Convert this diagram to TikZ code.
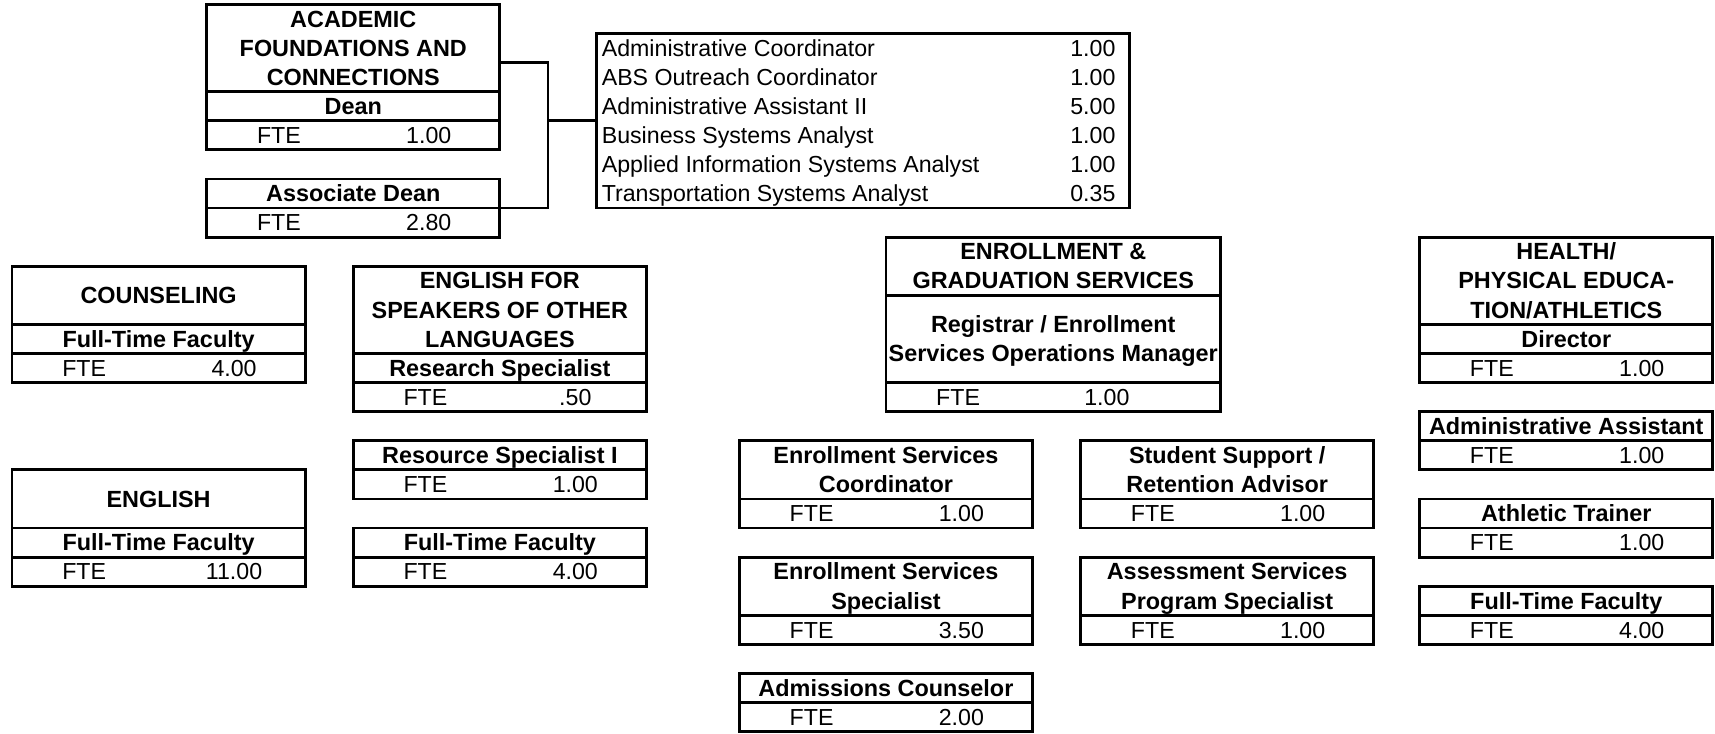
\documentclass[tikz,border=0pt]{standalone}
\usepackage{fontspec}
\setmainfont{Liberation Sans}
\newcommand{\RH}{26.6}
\tikzset{
  rb/.style={draw, line width=2.6pt, anchor=north west, inner sep=0pt, outer sep=0pt},
  bt/.style={font=\fontsize{21.4}{25}\selectfont\bfseries, inner sep=0pt, text height=15pt, text depth=0pt, anchor=center},
  nt/.style={font=\fontsize{21.2}{25}\selectfont, inner sep=0pt, text height=15pt, text depth=0pt, anchor=center},
  conn/.style={line width=2.6pt}
}
% row box: name, x, width, start row, number of rows
\newcommand{\rowbox}[5]{\node[rb, minimum width=#3pt, minimum height={#5*\RH pt}] (#1) at (#2,{4+\RH*#4}) {};}
% bold label: name, x centre, row centre index, text
\newcommand{\blab}[4]{\node[bt] (#1) at (#2,{4+\RH*#3}) {#4};}
% FTE row: name, x, width, row, value, value offset
\newcommand{\fterow}[6]{\rowbox{#1}{#2}{#3}{#4}{1}
  \node[nt] (#1a) at ({#2+66},{4+\RH*(#4+0.5)}) {FTE};
  \node[nt] (#1b) at ({#2+#6},{4+\RH*(#4+0.5)}) {#5};}
\begin{document}
\begin{tikzpicture}[x=1pt,y=-1pt]
\useasboundingbox (0,0) rectangle (1568,671);

% ACADEMIC FOUNDATIONS AND CONNECTIONS
\rowbox{acT}{189}{268}{0}{3}
\blab{acT1}{323}{0.5}{ACADEMIC}
\blab{acT2}{323}{1.5}{FOUNDATIONS AND}
\blab{acT3}{323}{2.5}{CONNECTIONS}
\rowbox{acD}{189}{268}{3}{1}
\blab{acD1}{323}{3.5}{Dean}
\fterow{acF}{189}{268}{4}{1.00}{203}

% Associate Dean
\rowbox{adT}{189}{268}{6}{1}
\blab{adT1}{323}{6.5}{Associate Dean}
\fterow{adF}{189}{268}{7}{2.80}{203}

% staff list
\rowbox{lst}{545}{488}{1}{6}
\foreach \t/\v [count=\i from 0] in {Administrative Coordinator/1.00, ABS Outreach Coordinator/1.00, Administrative Assistant II/5.00, Business Systems Analyst/1.00, Applied Information Systems Analyst/1.00, Transportation Systems Analyst/0.35}{
  \node[nt, anchor=west] (lt\i) at (550,{4+\RH*(1.5+\i)}) {\t};
  \node[nt, anchor=east] (lv\i) at (1020,{4+\RH*(1.5+\i)}) {\v};
}

% connectors
\coordinate (jt) at (501,{4+\RH*2});
\coordinate (jm) at (501,{4+\RH*4});
\coordinate (jb) at (501,{4+\RH*7});
\draw[conn] (acT.east |- jt) -- (jt) -- (jb) -- (adT.south east);
\draw[conn] (jm) -- (lst.west |- jm);

% COUNSELING
\rowbox{cT}{11}{268}{9}{2}
\blab{cT1}{145}{10}{COUNSELING}
\rowbox{cP}{11}{268}{11}{1}
\blab{cP1}{145}{11.5}{Full-Time Faculty}
\fterow{cF}{11}{268}{12}{4.00}{203}

% ENGLISH
\rowbox{gT}{11}{268}{16}{2}
\blab{gT1}{145}{17}{ENGLISH}
\rowbox{gP}{11}{268}{18}{1}
\blab{gP1}{145}{18.5}{Full-Time Faculty}
\fterow{gF}{11}{268}{19}{11.00}{203}

% ESOL
\rowbox{eT}{323}{268}{9}{3}
\blab{eT1}{457}{9.5}{ENGLISH FOR}
\blab{eT2}{457}{10.5}{SPEAKERS OF OTHER}
\blab{eT3}{457}{11.5}{LANGUAGES}
\rowbox{eP}{323}{268}{12}{1}
\blab{eP1}{457}{12.5}{Research Specialist}
\fterow{eF}{323}{268}{13}{.50}{203}

\rowbox{rT}{323}{268}{15}{1}
\blab{rT1}{457}{15.5}{Resource Specialist I}
\fterow{rF}{323}{268}{16}{1.00}{203}

\rowbox{fP}{323}{268}{18}{1}
\blab{fP1}{457}{18.5}{Full-Time Faculty}
\fterow{fF}{323}{268}{19}{4.00}{203}

% ENROLLMENT & GRADUATION SERVICES
\rowbox{nT}{810}{306}{8}{2}
\blab{nT1}{963}{8.5}{ENROLLMENT \&}
\blab{nT2}{963}{9.5}{GRADUATION SERVICES}
\rowbox{nP}{810}{306}{10}{3}
\blab{nP1}{963}{11}{Registrar / Enrollment}
\blab{nP2}{963}{12}{Services Operations Manager}
\fterow{nF}{810}{306}{13}{1.00}{202}

\rowbox{sT}{676}{268}{15}{2}
\blab{sT1}{810}{15.5}{Enrollment Services}
\blab{sT2}{810}{16.5}{Coordinator}
\fterow{sF}{676}{268}{17}{1.00}{203}

\rowbox{pT}{676}{268}{19}{2}
\blab{pT1}{810}{19.5}{Enrollment Services}
\blab{pT2}{810}{20.5}{Specialist}
\fterow{pF}{676}{268}{21}{3.50}{203}

\rowbox{aT}{676}{268}{23}{1}
\blab{aT1}{810}{23.5}{Admissions Counselor}
\fterow{aF}{676}{268}{24}{2.00}{203}

\rowbox{uT}{988}{268}{15}{2}
\blab{uT1}{1122}{15.5}{Student Support /}
\blab{uT2}{1122}{16.5}{Retention Advisor}
\fterow{uF}{988}{268}{17}{1.00}{203}

\rowbox{mT}{988}{268}{19}{2}
\blab{mT1}{1122}{19.5}{Assessment Services}
\blab{mT2}{1122}{20.5}{Program Specialist}
\fterow{mF}{988}{268}{21}{1.00}{203}

% HEALTH/PHYSICAL EDUCATION/ATHLETICS
\rowbox{hT}{1298}{268}{8}{3}
\blab{hT1}{1432}{8.5}{HEALTH/}
\blab{hT2}{1432}{9.5}{PHYSICAL EDUCA-}
\blab{hT3}{1432}{10.5}{TION/ATHLETICS}
\rowbox{hD}{1298}{268}{11}{1}
\blab{hD1}{1432}{11.5}{Director}
\fterow{hF}{1298}{268}{12}{1.00}{203}

\rowbox{xT}{1298}{268}{14}{1}
\blab{xT1}{1432}{14.5}{Administrative Assistant}
\fterow{xF}{1298}{268}{15}{1.00}{203}

\rowbox{tT}{1298}{268}{17}{1}
\blab{tT1}{1432}{17.5}{Athletic Trainer}
\fterow{tF}{1298}{268}{18}{1.00}{203}

\rowbox{yT}{1298}{268}{20}{1}
\blab{yT1}{1432}{20.5}{Full-Time Faculty}
\fterow{yF}{1298}{268}{21}{4.00}{203}
\end{tikzpicture}
\end{document}
